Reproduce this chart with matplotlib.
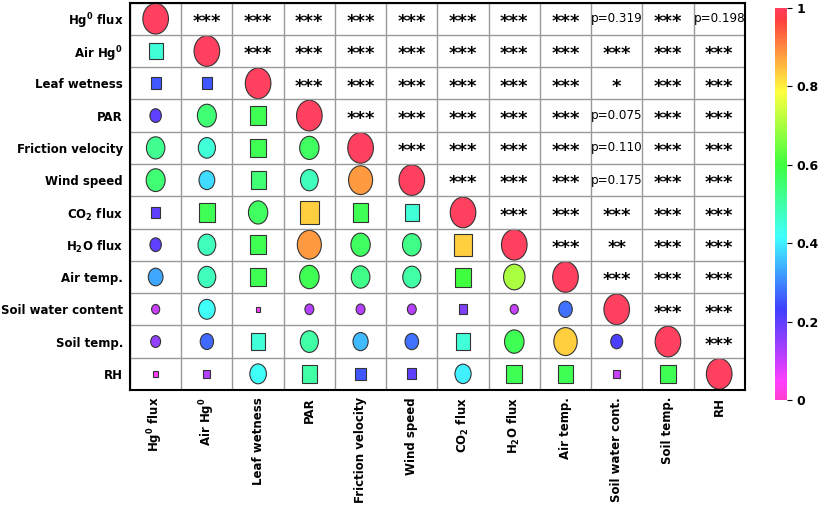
import numpy as np
import matplotlib
matplotlib.use("Agg")
import matplotlib.pyplot as plt
from matplotlib.patches import Ellipse, Rectangle
from matplotlib.colors import ListedColormap

row_labels = [r"Hg$^\mathbf{0}$ flux", r"Air Hg$^\mathbf{0}$", "Leaf wetness", "PAR",
              "Friction velocity", "Wind speed", r"CO$_\mathbf{2}$ flux", r"H$_\mathbf{2}$O flux",
              "Air temp.", "Soil water content", "Soil temp.", "RH"]
col_labels = [r"Hg$^\mathbf{0}$ flux", r"Air Hg$^\mathbf{0}$", "Leaf wetness", "PAR",
              "Friction velocity", "Wind speed", r"CO$_\mathbf{2}$ flux", r"H$_\mathbf{2}$O flux",
              "Air temp.", "Soil water cont.", "Soil temp.", "RH"]

# lower triangle correlations (sign: + circle, - square)
lower = [
    [],
    [-0.45],
    [-0.25, -0.25],
    [0.20, 0.55, -0.58],
    [0.52, 0.45, -0.58, 0.57],
    [0.55, 0.38, -0.55, 0.48, 0.88],
    [-0.20, -0.58, 0.57, -0.83, -0.58, -0.45],
    [0.20, 0.48, -0.58, 0.88, 0.57, 0.53, -0.83],
    [0.33, 0.48, -0.58, 0.58, 0.53, 0.50, -0.60, 0.70],
    [0.10, 0.42, -0.05, 0.12, 0.12, 0.12, -0.17, 0.10, 0.28],
    [0.15, 0.27, -0.45, 0.50, 0.35, 0.28, -0.45, 0.58, 0.83, 0.22],
    [-0.05, -0.12, 0.42, -0.50, -0.25, -0.20, 0.40, -0.58, -0.58, -0.10, -0.58],
]

# significance labels for upper triangle (default ***)
special = {(0, 9): "p=0.319", (0, 11): "p=0.198", (2, 9): "*", (3, 9): "p=0.075",
           (4, 9): "p=0.110", (5, 9): "p=0.175", (7, 9): "**"}

n = len(row_labels)
base = plt.get_cmap("gist_rainbow_r")(np.linspace(0, 1, 256))
base[:, :3] = base[:, :3] * 0.75 + 0.25  # softer, pastel tones
cmap = ListedColormap(base)

fig = plt.figure(figsize=(8.23, 5.2), dpi=100)
ax = fig.add_axes([0.158, 0.25, 0.747, 0.745])
ax.set_xlim(0, n)
ax.set_ylim(n, 0)

for i in range(n):
    for j in range(n):
        cx, cy = j + 0.5, i + 0.5
        if i == j:
            v = 1.0
        elif j < i:
            v = lower[i][j]
        else:
            txt = special.get((i, j), "***")
            if txt.startswith("p"):
                ax.text(cx, cy, txt, ha="center", va="center", fontsize=9.5,
                        family="DejaVu Sans", stretch="condensed")
            else:
                ax.text(cx, cy + 0.1, txt, ha="center", va="center", fontsize=13, fontweight="bold")
            continue
        s = np.sqrt(abs(v))
        w, h = 0.5 * s, 0.95 * s
        c = cmap(abs(v))
        if v > 0:
            ax.add_patch(Ellipse((cx, cy), w, h, facecolor=c, edgecolor="#333333", lw=0.8))
        else:
            ax.add_patch(Rectangle((cx - w * 0.4, cy - h * 0.4), w * 0.8, h * 0.8,
                                   facecolor=c, edgecolor="#333333", lw=0.8))

for k in range(n + 1):
    ax.axhline(k, color="#999999", lw=1)
    ax.axvline(k, color="#999999", lw=1)
for sp in ax.spines.values():
    sp.set_linewidth(1.5)

ax.set_xticks(np.arange(n) + 0.5)
ax.set_xticklabels(col_labels, rotation=90, fontweight="bold", fontsize=8.5)
ax.set_yticks(np.arange(n) + 0.5)
ax.set_yticklabels(row_labels, fontweight="bold", fontsize=8.5)
ax.tick_params(length=0, pad=5)

cax = fig.add_axes([0.942, 0.23, 0.014, 0.755])
grad = np.linspace(0, 1, 256).reshape(-1, 1)
cax.imshow(grad, aspect="auto", cmap=cmap, origin="lower", extent=[0, 1, 0, 1])
cax.set_xticks([])
cax.yaxis.tick_right()
cax.set_yticks([0, 0.2, 0.4, 0.6, 0.8, 1])
cax.set_yticklabels(["0", "0.2", "0.4", "0.6", "0.8", "1"], fontweight="bold", fontsize=9)
for sp in cax.spines.values():
    sp.set_visible(False)

fig.savefig("out.png", dpi=100)
